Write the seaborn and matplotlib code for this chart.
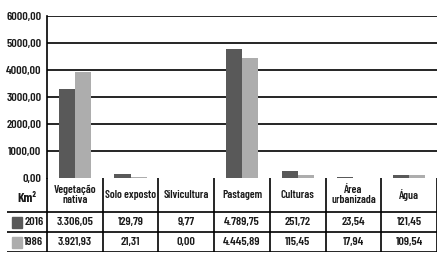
import matplotlib
matplotlib.use("Agg")
import matplotlib.pyplot as plt
import seaborn as sns
import pandas as pd
from matplotlib.patches import Rectangle

categories = ["Vegetação\nnativa", "Solo exposto", "Silvicultura", "Pastagem",
              "Culturas", "Área\nurbanizada", "Água"]
years = ["2016", "1986"]
values_2016 = [3306.05, 129.79, 9.77, 4789.75, 251.72, 23.54, 121.45]
values_1986 = [3921.93, 21.31, 0.00, 4445.89, 115.45, 17.94, 109.54]
labels_2016 = ["3.306,05", "129,79", "9,77", "4.789,75", "251,72", "23,54", "121,45"]
labels_1986 = ["3.921,93", "21,31", "0,00", "4.445,89", "115,45", "17,94", "109,54"]
yticks = [0, 1000, 2000, 3000, 4000, 5000, 6000]
colors = {"2016": "#595959", "1986": "#adadad"}

sns.set_style("white")
plt.rcParams["font.family"] = ["Barlow Condensed", "DejaVu Sans"]
plt.rcParams["font.weight"] = 600
plt.rcParams["text.color"] = "#1a1a1a"

df = pd.DataFrame({
    "cat": categories * 2,
    "year": ["2016"] * 7 + ["1986"] * 7,
    "value": values_2016 + values_1986,
})

W, H = 443, 258
fig = plt.figure(figsize=(W / 100, H / 100), dpi=100)
ax = fig.add_axes([47 / W, 1 - 178 / H, 390 / W, 162 / H])

sns.barplot(data=df, x="cat", y="value", hue="year", hue_order=years,
            palette=colors, width=0.58, ax=ax, legend=False, saturation=1,
            linewidth=0)
ax.set_xlim(-0.5, 6.5)
ax.set_ylim(0, 6000)
ax.set_yticks(yticks)
ax.set_yticklabels([f"{v},00" for v in yticks], fontsize=8.8, fontweight=600,
                   color="#1a1a1a")
ax.tick_params(axis="y", length=0, pad=4)
ax.set_xticks([])
ax.set_xlabel("")
ax.set_ylabel("")
for v in yticks[1:]:
    ax.axhline(v, color="black", lw=1.2, zorder=0)
for s in ["top", "right", "bottom"]:
    ax.spines[s].set_visible(False)
ax.spines["left"].set_color("black")
ax.spines["left"].set_linewidth(1.2)

# table under the chart
left_units = 40 / (390 / 7)
tab = fig.add_axes([7 / W, 1 - 252 / H, 430 / W, 74 / H])
tab.set_xlim(-0.5 - left_units, 6.5)
tab.set_ylim(74, 0)
tab.axis("off")
x0 = -0.5 - left_units
for y in [34, 54, 74]:
    tab.plot([x0, 6.5], [y, y], color="black", lw=1.2)
for i in range(8):
    tab.plot([i - 0.5, i - 0.5], [0, 74], color="black", lw=1.2)
tab.text(x0 + left_units / 2, 20, "Km²", ha="center", va="center", fontsize=9.5,
         fontweight=700)
for i, c in enumerate(categories):
    tab.text(i, 17, c, ha="center", va="center", fontsize=8.2, linespacing=1.05)
    tab.text(i, 44, labels_2016[i], ha="center", va="center", fontsize=8.8)
    tab.text(i, 64, labels_1986[i], ha="center", va="center", fontsize=8.8)
for y, yr in [(44, "2016"), (64, "1986")]:
    tab.add_patch(Rectangle((x0 + 0.09, y - 5.5), 0.18, 11, color=colors[yr]))
    tab.text(x0 + 0.31, y, yr, ha="left", va="center", fontsize=8.8)

fig.savefig("out.png", dpi=100)
